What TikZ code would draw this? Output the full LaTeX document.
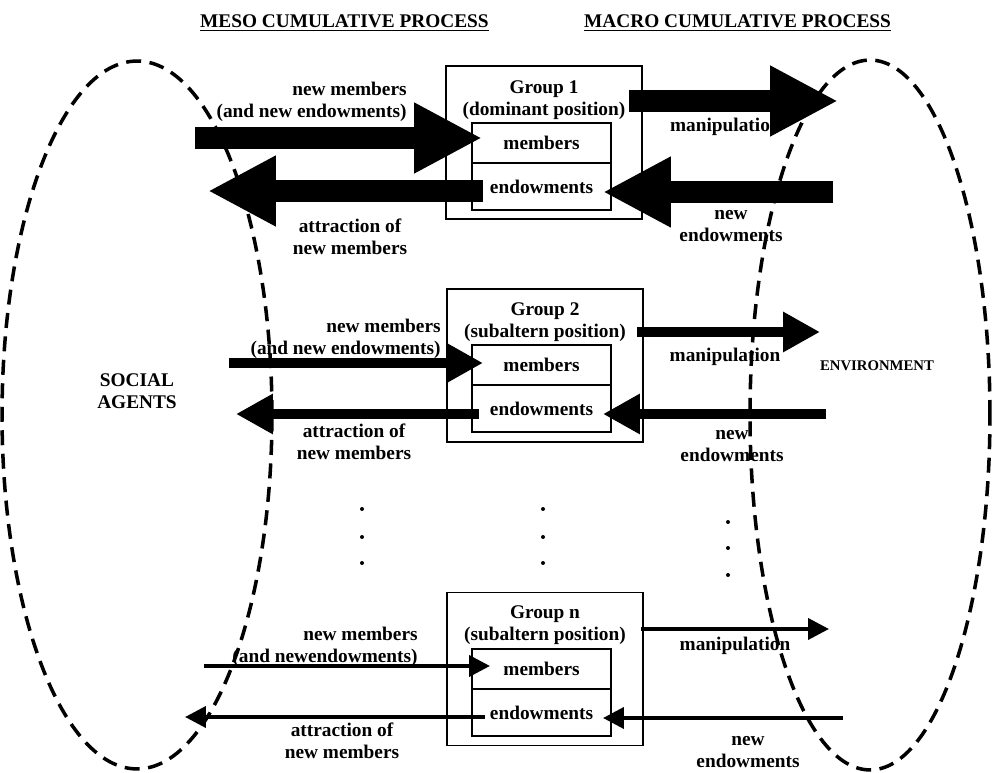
\documentclass[tikz,border=0pt]{standalone}
\usepackage{fontspec}
\setmainfont{Liberation Serif}
\usetikzlibrary{arrows.meta}

\begin{document}
\begin{tikzpicture}[x=0.02cm,y=-0.02cm,
  every node/.style={font=\bfseries\fontsize{11}{12.5}\selectfont},
  lbl/.style={align=center,inner sep=0pt},
  grp/.style={draw,line width=0.8pt,minimum width=3.92cm,minimum height=3.06cm,inner sep=0pt},
  mem/.style={draw,line width=0.8pt,minimum width=2.78cm,minimum height=0.8cm,inner sep=0pt},
  endw/.style={draw,line width=0.8pt,minimum width=2.78cm,minimum height=0.94cm,inner sep=0pt},
  bigarrow/.style={line width=0.44cm,-{Triangle[length=1.36cm,width=1.32cm]}},
  midarrow/.style={line width=0.2cm,-{Triangle[length=0.74cm,width=0.76cm]}},
  smallarrow/.style={line width=0.08cm,-{Triangle[length=0.42cm,width=0.42cm]}},
  border/.style={line width=2pt,dash pattern=on 0.3cm off 0.17cm}]
\useasboundingbox (0,0) rectangle (992,773);

\draw[border] (137,415) ellipse [x radius=2.7cm, y radius=7.08cm];
\draw[border] (870,415) ellipse [x radius=2.4cm, y radius=7.1cm];

\node[anchor=west] (meso) at (194,23) {\underline{MESO CUMULATIVE PROCESS}};
\node[anchor=west] (macro) at (578,23) {\underline{MACRO CUMULATIVE PROCESS}};
\node[lbl] (agents) at (137,391) {SOCIAL\\AGENTS};
\node[lbl,font=\bfseries\fontsize{8.4}{10}\selectfont] (env) at (877,366) {ENVIRONMENT};

% group 1
\node[grp] (g1) at (544,142.5) {};
\node[mem] (m1) at (541.5,143) {members};
\node[endw] (e1) at (541.5,186.5) {endowments};
\node[lbl] (t1) at (544,100) {Group 1\\(dominant position)};
\coordinate (nm1a) at (195,138);
\coordinate (nm1b) at (482,138);
\coordinate (at1a) at (483,191);
\coordinate (at1b) at (208,191);
\coordinate (ma1a) at (629,101);
\coordinate (ma1b) at (838,101);
\coordinate (ne1a) at (833,192);
\coordinate (ne1b) at (603,192);
\draw[bigarrow] (nm1a) -- (nm1b);
\draw[bigarrow] (at1a) -- (at1b);
\draw[bigarrow] (ma1a) -- (ma1b);
\draw[bigarrow] (ne1a) -- (ne1b);
\node[lbl,align=right,anchor=east] (nl1) at (407,102) {new members\\(and new endowments)};
\node[lbl] (al1) at (350,237) {attraction of\\new members};
\node[lbl] (ml1) at (720,127) {manipulatio};
\node[lbl] (el1) at (731,226) {new\\endowments};

% group 2
\node[grp] (g2) at (545,365.5) {};
\node[mem] (m2) at (541.5,365) {members};
\node[endw] (e2) at (541.5,408.5) {endowments};
\node[lbl] (t2) at (545,322) {Group 2\\(subaltern position)};
\coordinate (nm2a) at (229,363);
\coordinate (nm2b) at (483,363);
\coordinate (at2a) at (479,414);
\coordinate (at2b) at (236,414);
\coordinate (ma2a) at (637,332);
\coordinate (ma2b) at (820,332);
\coordinate (ne2a) at (826,414);
\coordinate (ne2b) at (603,414);
\draw[midarrow] (nm2a) -- (nm2b);
\draw[midarrow] (at2a) -- (at2b);
\draw[midarrow] (ma2a) -- (ma2b);
\draw[midarrow] (ne2a) -- (ne2b);
\node[lbl,align=right,anchor=east] (nl2) at (441,339) {new members\\(and new endowments)};
\node[lbl] (al2) at (354,442) {attraction of\\new members};
\node[lbl] (ml2) at (725,357) {manipulation};
\node[lbl] (el2) at (732,446) {new\\endowments};

% dots
\fill (362,509) circle [radius=0.04cm];
\fill (362,537) circle [radius=0.04cm];
\fill (362,563) circle [radius=0.04cm];
\fill (543,509) circle [radius=0.04cm];
\fill (543,537) circle [radius=0.04cm];
\fill (543,563) circle [radius=0.04cm];
\fill (728,522) circle [radius=0.04cm];
\fill (728,548) circle [radius=0.04cm];
\fill (728,575) circle [radius=0.04cm];

% group n
\node[grp] (gn) at (545,669) {};
\node[mem] (mn) at (541.5,669) {members};
\node[endw] (en) at (541.5,712.5) {endowments};
\node[lbl] (tn) at (545,625) {Group n\\(subaltern position)};
\coordinate (nmna) at (204,666);
\coordinate (nmnb) at (490,666);
\coordinate (atna) at (485,717);
\coordinate (atnb) at (185,717);
\coordinate (mana) at (641,629);
\coordinate (manb) at (829,629);
\coordinate (nena) at (843,718);
\coordinate (nenb) at (603,718);
\draw[smallarrow] (nmna) -- (nmnb);
\draw[smallarrow] (atna) -- (atnb);
\draw[smallarrow] (mana) -- (manb);
\draw[smallarrow] (nena) -- (nenb);
\node[lbl,align=right,anchor=east] (nln) at (418,647) {new members\\(and newendowments)};
\node[lbl] (aln) at (342,741) {attraction of\\new members};
\node[lbl] (mln) at (735,646) {manipulation};
\node[lbl] (eln) at (748,752) {new\\endowments};
\end{tikzpicture}
\end{document}
